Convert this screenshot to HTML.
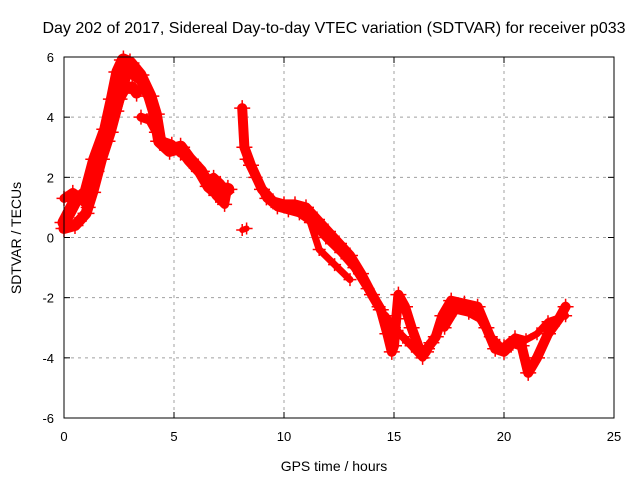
<!DOCTYPE html>
<html><head><meta charset="utf-8"><style>
body{margin:0;background:#fff;}
svg{display:block;font-family:"Liberation Sans",sans-serif;}
</style></head><body>
<svg id="chart" width="640" height="480">
<text x="334" y="33" text-anchor="middle" font-size="16">Day 202 of 2017, Sidereal Day-to-day VTEC variation (SDTVAR) for receiver p033</text>
<g id="grid"></g><g id="data"></g><g id="axes"></g>
<text x="334" y="471" text-anchor="middle" font-size="14">GPS time / hours</text>
<text transform="translate(21,238) rotate(-90)" text-anchor="middle" font-size="14">SDTVAR / TECUs</text>
</svg>
<script>
const xTicks=[0,5,10,15,20,25];
const yTicks=[-6,-4,-2,0,2,4,6];
const trackA_t=[0,0.5,1,1.4,1.9,2.2,2.45,2.7,3,3.45,3.9,4.15,4.35,4.8,5.3,5.7,6.2,6.6,7.1,7.45];
const trackA_v=[0.5,1.2,1.5,2.6,3.6,4.6,5.5,5.9,5.8,5.4,4.7,4.1,3.2,2.9,3.0,2.6,2.2,1.7,1.4,1.6];
const trackA2_t=[0,0.5,1,1.3,1.7,2.1,2.5,2.8,3.1,3.3];
const trackA2_v=[0.3,0.4,0.8,1.5,2.6,3.5,4.6,5.0,5.0,4.8];
const trackA3_t=[3.5,3.9,4.2,4.5,4.9,5.3];
const trackA3_v=[4.0,3.9,3.5,3.2,3.1,2.8];
const trackA4_t=[0,0.4,0.8,1.1,1.5,2.0,2.4,2.9,3.5];
const trackA4_v=[1.3,1.5,1.3,1.0,2.2,3.2,4.2,5.5,5.2];
const trackA5_t=[6.5,6.8,7.1,7.4,7.3,6.9];
const trackA5_v=[1.9,2.0,1.8,1.5,1.1,1.4];
const trackB_t=[8.1,8.2,8.5,9,9.5,10,10.5,11,11.5,12,12.5,13,13.5,14,14.4,14.7,14.9,15.0,15.1,15.2,15.5,15.8,16.2,16.5,16.7,16.9,17.2,17.6,18.2,18.8,19.2,19.6,20.0,20.4,20.8,21.1,21.5,22.0,22.5,22.8];
const trackB_v=[4.3,3.0,2.4,1.6,1.2,1.1,1.1,1.0,0.6,0.2,-0.2,-0.6,-1.2,-1.9,-2.4,-3.2,-3.8,-3.6,-2.7,-1.9,-2.3,-3.0,-3.8,-3.7,-3.5,-3.3,-2.6,-2.1,-2.2,-2.3,-3.0,-3.7,-3.8,-3.5,-3.6,-4.5,-4.0,-3.2,-2.7,-2.3];
const trackB2_t=[10.8,11.2,11.6,12.3,13];
const trackB2_v=[0.9,0.5,-0.4,-0.9,-1.4];
const trackB3_t=[14.6,15.0,15.4,15.8,16.3,16.5];
const trackB3_v=[-2.6,-3.0,-3.3,-3.6,-4.0,-3.8];
const trackB4_t=[20,20.5,21,21.5,22,22.8];
const trackB4_v=[-3.6,-3.3,-3.4,-3.2,-2.8,-2.6];
const trackB5_t=[8.3,8.7,9.2,9.7,10.2,10.7,11.3,11.9,12.6,13.2,13.8,14.3,14.7];
const trackB5_v=[2.6,2.0,1.3,1.0,0.9,0.8,0.5,0.0,-0.5,-1.0,-1.7,-2.3,-2.8];
const trackB6_t=[17.3,17.8,18.4,18.9,19.4,19.8];
const trackB6_v=[-3.0,-2.4,-2.5,-2.7,-3.3,-3.6];
const blob_t=[8.1,8.3];
const blob_v=[0.25,0.3];

const X0=64,X1=614,Y0=418,Y1=57;
const sx=t=>X0+(t-0)/25*(X1-X0);
const sy=v=>Y0-(v+6)/12*(Y0-Y1);
const NS='http://www.w3.org/2000/svg';
function mk(tag,attrs,parent){const e=document.createElementNS(NS,tag);for(const k in attrs)e.setAttribute(k,attrs[k]);parent.appendChild(e);return e;}
const grid=document.getElementById('grid'),axes=document.getElementById('axes'),data=document.getElementById('data');
xTicks.forEach(t=>{
  if(t>0&&t<25){const g=mk('line',{x1:sx(t),x2:sx(t),y1:Y1,y2:Y0,stroke:'#a0a0a0','stroke-dasharray':'3,4'},grid);
  
  }
  mk('line',{x1:sx(t),x2:sx(t),y1:Y0,y2:Y0-6,stroke:'#000'},axes);
  mk('line',{x1:sx(t),x2:sx(t),y1:Y1,y2:Y1+6,stroke:'#000'},axes);
  const l=mk('text',{x:sx(t),y:Y0+23,'text-anchor':'middle','font-size':'13'},axes);l.textContent=t;
  
  
});
yTicks.forEach(v=>{
  if(v>-6&&v<6){const g=mk('line',{x1:X0,x2:X1,y1:sy(v),y2:sy(v),stroke:'#a0a0a0','stroke-dasharray':'3,4'},grid);
  
  }
  mk('line',{x1:X0,x2:X0+6,y1:sy(v),y2:sy(v),stroke:'#000'},axes);
  mk('line',{x1:X1,x2:X1-6,y1:sy(v),y2:sy(v),stroke:'#000'},axes);
  const l=mk('text',{x:X0-10,y:sy(v)+5,'text-anchor':'end','font-size':'13'},axes);l.textContent=v;
  
  
});
const frame=mk('rect',{x:X0,y:Y1,width:X1-X0,height:Y0-Y1,fill:'none',stroke:'#000'},axes);


function track(ts,vs,w,name){
  const p=ts.map((t,i)=>sx(t).toFixed(1)+','+sy(vs[i]).toFixed(1)).join(' ');
  const pl=mk('polyline',{points:p,fill:'none',stroke:'#ff0000','stroke-width':w,'stroke-linejoin':'round','stroke-linecap':'round'},data);
  
  
  ts.forEach((t,i)=>{const x=sx(t),y=sy(vs[i]);
    const m=mk('path',{d:`M${x-w/2-3},${y}h${w+6}M${x},${y-w/2-3}v${w+6}`,stroke:'#ff0000','stroke-width':1.5},data);
    
    });
}
track(trackA_t,trackA_v,13,'series-track-a');
track(trackA2_t,trackA2_v,11,'series-track-a2');
track(trackA3_t,trackA3_v,9,'series-track-a3');
track(trackA4_t,trackA4_v,9,'series-track-a4');
track(trackA5_t,trackA5_v,9,'series-track-a5');
track(trackB_t,trackB_v,10,'series-track-b');
track(trackB2_t,trackB2_v,7,'series-track-b2');
track(trackB3_t,trackB3_v,8,'series-track-b3');
track(trackB4_t,trackB4_v,7,'series-track-b4');
track(trackB5_t,trackB5_v,8,'series-track-b5');
track(trackB6_t,trackB6_v,8,'series-track-b6');
track(blob_t,blob_v,6,'series-blob');
</script>
</body></html>
